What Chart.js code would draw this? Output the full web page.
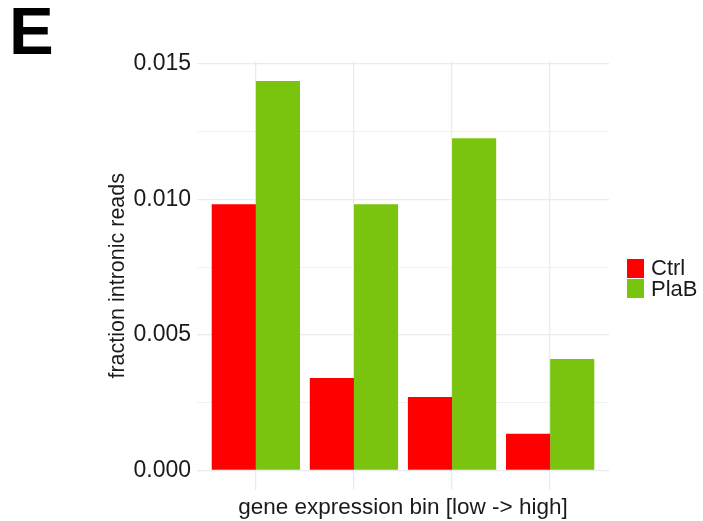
<!DOCTYPE html>
<html>
<head>
<meta charset="utf-8">
<script src="https://cdn.jsdelivr.net/npm/chart.js@4.4.1/dist/chart.umd.min.js"></script>
<style>
  html, body { margin: 0; padding: 0; background: #fff; }
  #wrap { position: relative; width: 703px; height: 521px; font-family: "Liberation Sans", Arial, sans-serif; }
  #panel-label { position: absolute; left: 9px; top: -3px; font-size: 67px; font-weight: bold; color: #000; line-height: 1; }
  #legend { position: absolute; left: 627px; top: 258px; font-size: 22px; color: #1a1a1a; }
  .key { display: flex; align-items: center; height: 20.5px; }
  .swatch { width: 17px; height: 19px; margin-right: 7px; }
  canvas { position: absolute; left: 0; top: 0; }
</style>
</head>
<body>
<div id="wrap">
  <canvas id="chart" width="703" height="521"></canvas>
  <div id="panel-label">E</div>
  <div id="legend"></div>
</div>
<script>
// ─── DATA ─────────────────────────────────────────────────────────────────────
const bins        = [1, 2, 3, 4];                       // expression bins, low -> high
const ctrlValues  = [0.00982, 0.00341, 0.00271, 0.00136];
const plabValues  = [0.01437, 0.00982, 0.01226, 0.00411];
const seriesNames = ['Ctrl', 'PlaB'];
const seriesColors = ['#FF0000', '#7AC30E'];
const yTicks      = [0, 0.005, 0.010, 0.015];

// ─── LAYOUT (ggplot-like panel) ───────────────────────────────────────────────
const PANEL_LEFT = 197, PANEL_RIGHT = 609, PANEL_TOP = 61.5, PANEL_BOTTOM = 490;
const W = 703, H = 521;
const FONT = '"Liberation Sans", Arial, sans-serif';

// discrete axis padding like ggplot (0.6 of a bin each side)
const xMin = bins[0] - 0.6, xMax = bins[bins.length - 1] + 0.6;
const yMax = Math.max(...ctrlValues, ...plabValues);
const yPad = yMax * 0.05;

const GRID = '#EBEBEB';
const isMajor = (v) => Math.abs(v / 0.005 - Math.round(v / 0.005)) < 1e-6;

const series = [ctrlValues, plabValues];

new Chart(document.getElementById('chart'), {
    type: 'bar',
    data: {
        datasets: series.map((vals, i) => ({
            label: seriesNames[i],
            data: bins.map((b, j) => ({ x: b, y: vals[j] })),
            backgroundColor: seriesColors[i],
            borderWidth: 0,
            categoryPercentage: 0.9,
            barPercentage: 1.0,
        })),
    },
    options: {
        responsive: false,
        animation: false,
        layout: { padding: { left: 0, top: PANEL_TOP, right: W - PANEL_RIGHT, bottom: 0 } },
        plugins: { legend: { display: false }, tooltip: { enabled: false } },
        scales: {
            x: {
                type: 'linear',
                min: xMin,
                max: xMax,
                offset: false,
                border: { display: false },
                grid: { color: GRID, lineWidth: 1.3, drawTicks: false, offset: false },
                ticks: { display: false, stepSize: 1, includeBounds: false },
                title: {
                    display: true,
                    text: 'gene expression bin [low -> high]',
                    color: '#1a1a1a',
                    font: { family: FONT, size: 22.5 },
                    padding: { top: 4.5, bottom: 0 },
                },
                afterFit: (s) => { s.height = H - PANEL_BOTTOM; },
            },
            y: {
                min: -yPad,
                max: yMax + yPad,
                border: { display: false },
                grid: {
                    color: GRID,
                    drawTicks: false,
                    lineWidth: (ctx) => (ctx.tick && isMajor(ctx.tick.value) ? 1.3 : 0.7),
                },
                ticks: {
                    stepSize: 0.0025,
                    includeBounds: false,
                    padding: 6,
                    color: '#1a1a1a',
                    font: { family: FONT, size: 23 },
                    callback: (v) => {
                        const t = yTicks.find((y) => Math.abs(y - v) < 1e-9);
                        return t === undefined ? '' : t.toFixed(3);
                    },
                },
                title: {
                    display: true,
                    text: 'fraction intronic reads',
                    color: '#1a1a1a',
                    font: { family: FONT, size: 21.5 },
                    padding: { top: 105, bottom: 0 },
                },
                afterFit: (s) => { s.width = PANEL_LEFT; },
            },
        },
    },
});

// ─── LEGEND ───────────────────────────────────────────────────────────────────
const legend = document.getElementById('legend');
seriesNames.forEach((name, i) => {
    const row = document.createElement('div');
    row.className = 'key';
    row.innerHTML = `<div class="swatch" style="background:${seriesColors[i]}"></div><span>${name}</span>`;
    legend.appendChild(row);
});
</script>
</body>
</html>
